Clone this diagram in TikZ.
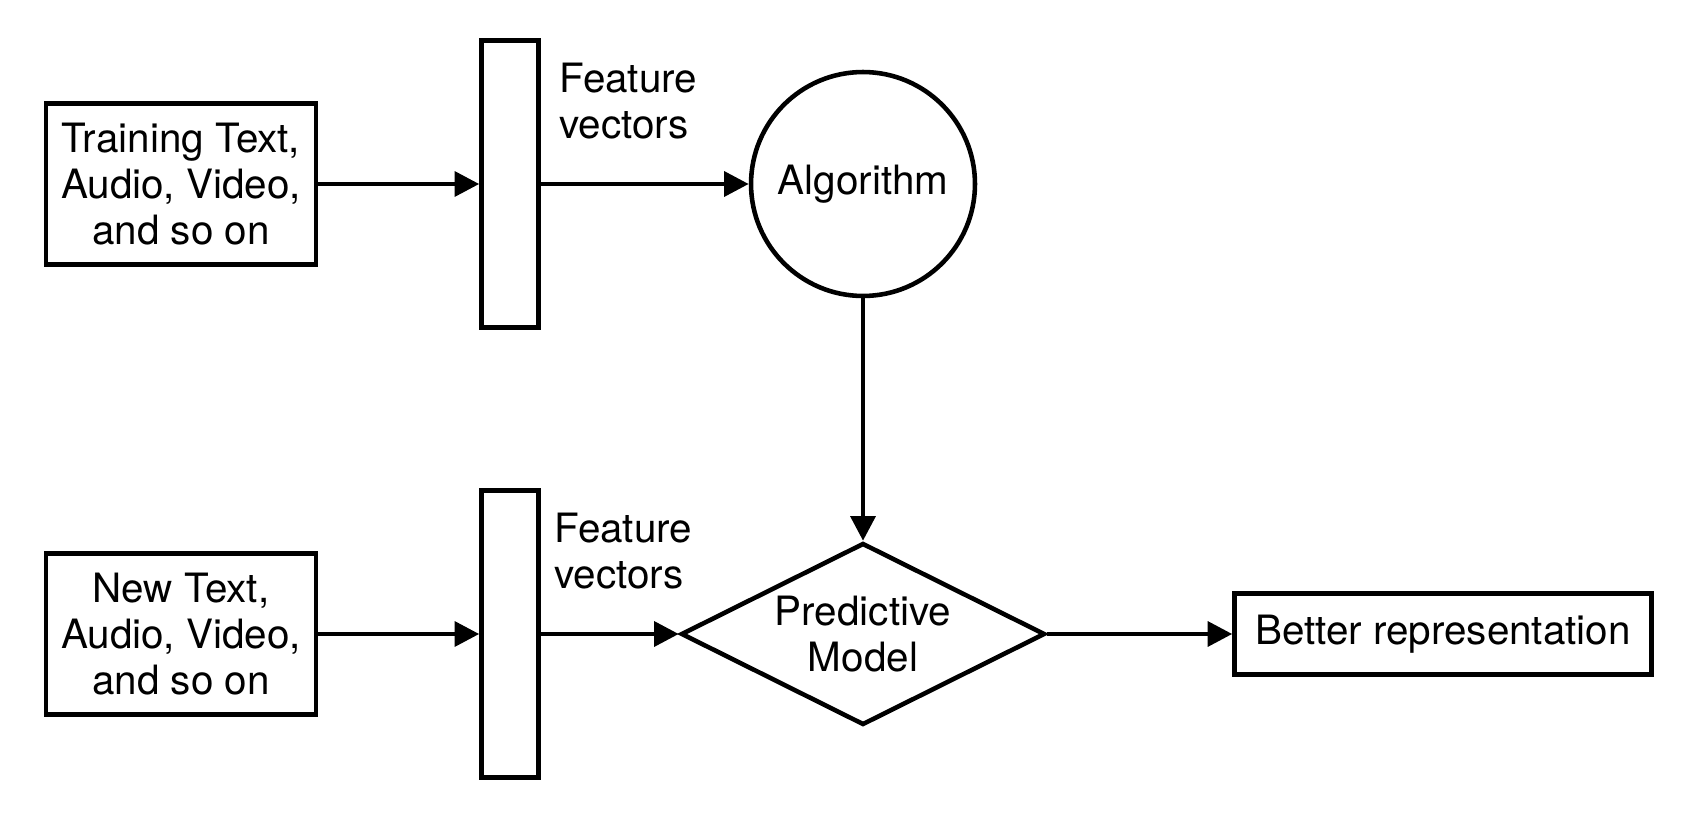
\documentclass[tikz,border=0pt]{standalone}
\usepackage{fontspec}
\setmainfont{TeX Gyre Heros}
\usetikzlibrary{shapes.geometric,arrows.meta}

\begin{document}
\begin{tikzpicture} [x=0.02cm, y=-0.02cm,
line width=2.6pt,
font=\fontsize{23}{26}\selectfont,
databox/.style={draw, align=center, minimum width=5.4cm, minimum height=3.22cm, inner sep=0pt},
vecbar/.style={draw, minimum width=1.14cm, minimum height=5.74cm, inner sep=0pt},
label/.style={align=left, anchor=west, inner sep=0pt},
algo/.style={draw, circle, minimum size=4.48cm, inner sep=0pt},
model/.style={draw, diamond, aspect=2, minimum width=7.28cm, minimum height=3.64cm, inner sep=0pt, align=center},
result/.style={draw, minimum width=8.34cm, minimum height=1.62cm, inner sep=0pt},
link/.style={-{Triangle[length=14pt,width=14pt]}},
]
    \useasboundingbox (0,0) rectangle (1690,814);

    % training path
    \node [databox] (train) at (181,184) {Training Text,\\Audio, Video,\\and so on};
    \node [vecbar] (bar1) at (510,184) {};
    \node [label] (fv1) at (557,101) {Feature\\vectors};
    \node [algo] (alg) at (863,184) {Algorithm};

    % prediction path
    \node [databox] (new) at (181,634) {New Text,\\Audio, Video,\\and so on};
    \node [vecbar] (bar2) at (510,634) {};
    \node [label] (fv2) at (552,551) {Feature\\vectors};
    \node [model] (pred) at (863,634) {Predictive\\Model};
    \node [result] (better) at (1443,634) {Better representation};

    \draw [link] (train) -- (bar1);
    \draw [link] (bar1) -- (alg);
    \draw [link] (alg) -- (pred);
    \draw [link] (new) -- (bar2);
    \draw [link] (bar2) -- (pred);
    \draw [link] (pred) -- (better);
\end{tikzpicture}
\end{document}
